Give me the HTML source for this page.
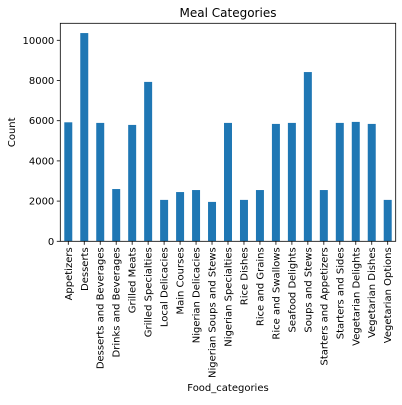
<!DOCTYPE html>
<html><head><meta charset="utf-8"><style>
body{margin:0;background:#fff}
svg text{font-family:"DejaVu Sans","Liberation Sans",sans-serif;fill:#000}
</style></head><body>
<svg id="chart" width="402" height="400"></svg>
<script>
const categories=["Appetizers","Desserts","Desserts and Beverages","Drinks and Beverages","Grilled Meats","Grilled Specialties","Local Delicacies","Main Courses","Nigerian Delicacies","Nigerian Soups and Stews","Nigerian Specialties","Rice Dishes","Rice and Grains","Rice and Swallows","Seafood Delights","Soups and Stews","Starters and Appetizers","Starters and Sides","Vegetarian Delights","Vegetarian Dishes","Vegetarian Options"];
const counts=[5920,10360,5890,2600,5790,7930,2060,2450,2550,1960,5890,2060,2550,5840,5890,8420,2550,5890,5940,5840,2060];
const yTicks=[0,2000,4000,6000,8000,10000];
const svg=document.getElementById('chart');
const NS='http://www.w3.org/2000/svg';
const L=60.3,R=395.7,T=23.3,B=241.3;
const y=v=>B-(v/10000)*(B-40.3);
const step=(R-L)/categories.length;
const x=i=>L+step*(i+0.5);
function mk(tag,attrs,txt){const e=document.createElementNS(NS,tag);for(const k in attrs)e.setAttribute(k,attrs[k]);if(txt!==undefined)e.textContent=txt;svg.appendChild(e);return e;}
counts.forEach((v,i)=>{
  const r=mk('rect',{x:x(i)-step/4,y:y(v),width:step/2,height:B-y(v),fill:'#1f77b4'});
  
  
  const t=mk('line',{x1:x(i),x2:x(i),y1:B,y2:B+3.5,stroke:'#000','stroke-width':0.8});
  
  
  const lb=mk('text',{x:x(i)+3.5,y:B+6,'font-size':10,'text-anchor':'end',transform:`rotate(-90 ${x(i)+3.5} ${B+6})`},categories[i]);
  
  
});
yTicks.forEach(v=>{
  const t=mk('line',{x1:L-3.5,x2:L,y1:y(v),y2:y(v),stroke:'#000','stroke-width':0.8});
  
  
  const lb=mk('text',{x:L-6,y:y(v)+3.5,'font-size':10,'text-anchor':'end'},String(v));
  
  
});
const f=mk('rect',{x:L,y:T,width:R-L,height:B-T,fill:'none',stroke:'#000','stroke-width':0.8});


const ti=mk('text',{x:(L+R)/2,y:17,'font-size':12,'text-anchor':'middle'},'Meal Categories');


const yl=mk('text',{x:15,y:(T+B)/2,'font-size':10,'text-anchor':'middle',transform:`rotate(-90 15 ${(T+B)/2})`},'Count');


const xl=mk('text',{x:(L+R)/2,y:391,'font-size':10,'text-anchor':'middle'},'Food_categories');


</script>
</body></html>
